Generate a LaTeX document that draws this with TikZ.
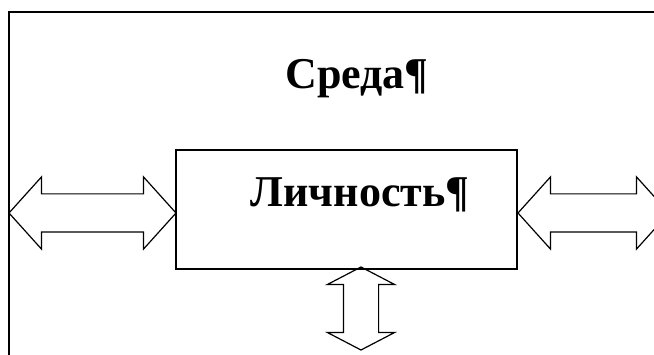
\documentclass[tikz,border=0pt]{standalone}
\usepackage{fontspec}
\setmainfont{Liberation Serif}
\usetikzlibrary{shapes.arrows}
\tikzset{
  bigarrow/.style={double arrow, draw, line width=1.2pt, inner xsep=0pt,
    inner ysep=18.5pt, text height=0pt, text depth=0pt,
    double arrow head extend=17pt, double arrow tip angle=96},
  title/.style={font=\bfseries\fontsize{44}{50}\selectfont, anchor=base, inner sep=0pt}
}
\begin{document}
\begin{tikzpicture}[x=1pt,y=-1pt]
    \useasboundingbox (0,0) rectangle (654,355);
    \clip (0,0) rectangle (654,355);
    %% frame
    \draw[line width=1.8pt] (9,370) -- (9,12) -- (670,12);
    %% box and texts
    \node[draw, line width=1.3pt, minimum width=341pt, minimum height=119pt, inner sep=0pt] (box) at (346.5,209.5) {};
    \node[title] (sreda) at (357,89) {Среда¶};
    \node[title] (lichnost) at (360,207) {Личность¶};
    %% arrows
    \node[bigarrow, minimum height=167pt] (leftarr) at (92.5,213) {};
    \node[bigarrow, minimum height=151pt] (rightarr) at (593.5,213) {};
    \node[bigarrow, minimum height=83pt, inner ysep=17pt, double arrow head extend=16pt,
      double arrow tip angle=125, rotate=90] (downarr) at (361,308.5) {};
\end{tikzpicture}
\end{document}
